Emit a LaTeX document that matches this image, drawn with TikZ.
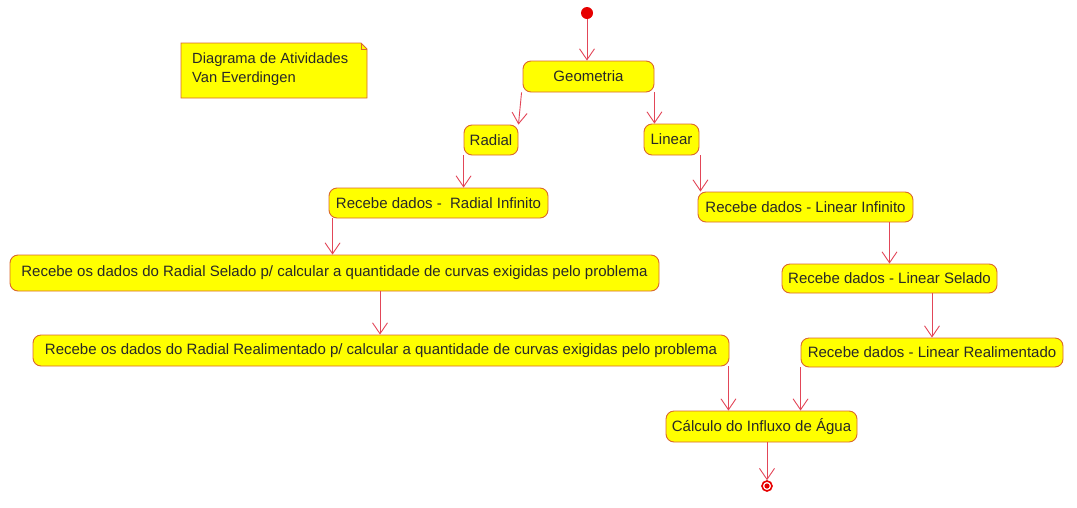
\documentclass[tikz,border=0pt]{standalone}
\usepackage{fontspec}
\setmainfont{Liberation Sans}
\usetikzlibrary{arrows.meta,calc}
\definecolor{actfill}{RGB}{255,255,0}
\definecolor{actborder}{RGB}{218,104,44}
\definecolor{arrowred}{RGB}{226,70,88}
\definecolor{dotred}{RGB}{230,0,0}
\definecolor{txt}{RGB}{40,40,40}
\begin{document}
\begin{tikzpicture}[x=1pt,y=-1pt,
  act/.style={draw=actborder, fill=actfill, line width=0.9pt, rounded corners=8pt,
    inner sep=0pt, text=txt, font=\fontsize{15}{17}\selectfont},
  flow/.style={draw=arrowred, line width=0.9pt, -{Straight Barb[length=11pt,width=15pt]}},
  startdot/.style={circle, fill=dotred, minimum size=12pt, inner sep=0pt},
  enddot/.style={circle, draw=dotred, line width=1.6pt, fill=white, minimum size=10pt, inner sep=0pt},
  notebox/.style={draw=actborder, fill=actfill, line width=0.9pt}
]
\useasboundingbox (0,0) rectangle (1077,507);

% note
\path[notebox] (181,43) -- (361,43) -- (367,49) -- (367,98) -- (181,98) -- cycle;
\draw[actborder, line width=0.6pt] (361,43) -- (361,49) -- (367,49);
\node[anchor=west, align=left, text=txt, inner sep=0pt,
  font=\fontsize{14.7}{19}\selectfont] (note) at (192,69) {Diagrama de Atividades\\Van Everdingen};

% nodes
\node[startdot] (start) at (587,13) {};
\node[act, minimum width=131pt, minimum height=31pt] (geo) at (588.5,76.5) {Geometria};
\node[act, minimum width=54pt, minimum height=30pt] (radial) at (491,140) {Radial};
\node[act, minimum width=55pt, minimum height=31pt] (linear) at (671.5,139.5) {Linear};
\node[act, minimum width=219pt, minimum height=30pt] (ri) at (438.5,203) {Recebe dados -\ \ Radial Infinito};
\node[act, minimum width=215pt, minimum height=30pt] (li) at (805.5,207) {Recebe dados - Linear Infinito};
\node[act, minimum width=649pt, minimum height=36pt] (rs) at (334.5,273) {Recebe os dados do Radial Selado p/ calcular a quantidade de curvas exigidas pelo problema};
\node[act, minimum width=215pt, minimum height=29pt] (ls) at (889.5,278.5) {Recebe dados - Linear Selado};
\node[act, minimum width=696pt, minimum height=31pt] (rr) at (381,350.5) {Recebe os dados do Radial Realimentado p/ calcular a quantidade de curvas exigidas pelo problema};
\node[act, minimum width=262pt, minimum height=29pt] (lr) at (932,352.5) {Recebe dados - Linear Realimentado};
\node[act, minimum width=191pt, minimum height=31pt] (calc) at (761.5,426.5) {Cálculo do Influxo de Água};
\node[enddot] (end) at (767,486) {};
\fill[dotred] (end) circle (2.6pt);

% connectors
\draw[flow] (start.south) -- (start.south |- geo.north);
\draw[flow] ([xshift=-1pt]geo.south west) -- (radial.north east);
\draw[flow] (geo.south east) -- (geo.south east |- linear.north);
\draw[flow] (radial.south west) -- (radial.south west |- ri.north);
\draw[flow] ([xshift=1pt]linear.south east) -- ([xshift=1pt]linear.south east |- li.north);
\draw[flow] ([xshift=4pt]ri.south west) -- ([xshift=4pt]ri.south west |- rs.north);
\draw[flow] (ls.north |- li.south) -- (ls.north);
\draw[flow] ([xshift=-1pt]rr.north |- rs.south) -- ([xshift=-1pt]rr.north);
\draw[flow] (lr.north |- ls.south) -- (lr.north);
\draw[flow] ([xshift=-1pt]rr.south east) -- ([xshift=-1pt]rr.south east |- calc.north);
\draw[flow] (lr.south west) -- (lr.south west |- calc.north);
\draw[flow] (end |- calc.south) -- (end.north);
\end{tikzpicture}
\end{document}
